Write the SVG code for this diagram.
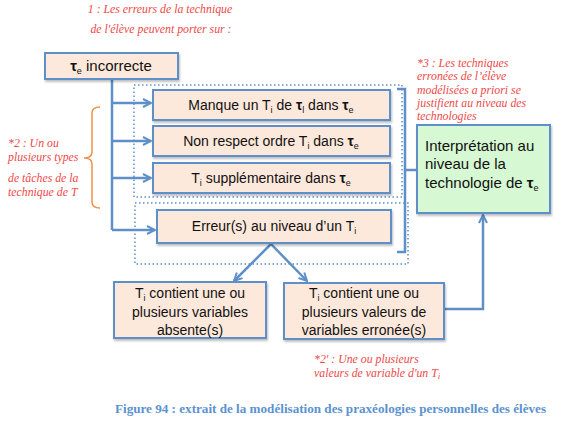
<svg xmlns="http://www.w3.org/2000/svg" width="562" height="426" viewBox="0 0 562 426">
<defs>
<style>
.box{fill:#fde9dc;stroke:#5f8fc8;stroke-width:2}
.green{fill:#d6f8d2;stroke:#5f8fc8;stroke-width:2}
.t{font-family:"Liberation Sans",Arial,sans-serif;font-size:14px;fill:#111;text-anchor:middle}
.tl{font-family:"Liberation Sans",Arial,sans-serif;font-size:15px;fill:#111}
.b{font-weight:bold}
.sub{font-size:9px}
.note{font-family:"Liberation Serif","DejaVu Serif",serif;font-style:italic;font-size:11.8px;fill:#f04848}
.con{fill:none;stroke:#5f8fc8;stroke-width:2.5}
.dot{fill:none;stroke:#5f8fc8;stroke-width:1.5;stroke-dasharray:1.5 2.5}
.brace{fill:none;stroke:#f0904a;stroke-width:1.5}
.cap{font-family:"Liberation Serif","DejaVu Serif",serif;font-weight:bold;font-size:12px;fill:#5b92d0}
</style>
<marker id="ah" viewBox="0 0 10 10" refX="9" refY="5" markerWidth="4" markerHeight="4" orient="auto" markerUnits="strokeWidth">
<path d="M1,1 L9,5 L1,9" fill="none" stroke="#5f8fc8" stroke-width="2"/>
</marker>
<filter id="sh" x="-10%" y="-10%" width="130%" height="140%">
<feDropShadow dx="1" dy="2" stdDeviation="1.2" flood-color="#000" flood-opacity="0.25"/>
</filter>
</defs>
<rect width="562" height="426" fill="#fff"/>

<g id="labels">
<text class="note" x="160" y="13" text-anchor="middle">1 : Les erreurs de la technique</text>
<text class="note" x="161" y="33" text-anchor="middle">de l'élève peuvent porter sur :</text>
<text class="note" x="8" y="147">*2 : Un ou</text>
<text class="note" x="8" y="161">plusieurs types</text>
<text class="note" x="8" y="182">de tâches de la</text>
<text class="note" x="8" y="196">technique de T</text>
<text class="note" x="417" y="67">*3 : Les techniques</text>
<text class="note" x="417" y="80">erronées de l’élève</text>
<text class="note" x="417" y="94">modélisées a priori se</text>
<text class="note" x="417" y="107">justifient au niveau des</text>
<text class="note" x="417" y="120">technologies</text>
<text class="note" x="314" y="363">*2' : Une ou plusieurs</text>
<text class="note" x="314" y="377">valeurs de variable d'un T<tspan class="sub" dy="2">i</tspan></text>
<text class="cap" x="115" y="413" textLength="431" lengthAdjust="spacingAndGlyphs">Figure 94 : extrait de la modélisation des praxéologies personnelles des élèves</text>
</g>

<g id="groupings">
<rect class="dot" x="134" y="85" width="268" height="112"/>
<rect class="dot" x="135" y="203" width="273" height="61"/>
<path class="brace" d="M100,107 Q92,107 92,113 L92,152 Q92,158 84,158 Q92,158 92,164 L92,202 Q92,208 100,208"/>
<path class="con" d="M397,89 L405,89 L405,252 L397,252 M405,170 L417,170" stroke-width="2"/>
</g>

<g id="connectors">
<path class="con" d="M112,79 L112,230"/>
<path class="con" d="M112,103 L151,103" marker-end="url(#ah)"/>
<path class="con" d="M112,141 L151,141" marker-end="url(#ah)"/>
<path class="con" d="M112,178 L151,178" marker-end="url(#ah)"/>
<path class="con" d="M112,230 L155,230" marker-end="url(#ah)"/>
<path class="con" d="M271,244 L234,281" marker-end="url(#ah)"/>
<path class="con" d="M271,244 L307,281" marker-end="url(#ah)"/>
<path class="con" d="M444,309 L483,309 L483,215" marker-end="url(#ah)"/>
</g>

<g id="n-incorrecte">
<rect class="box" x="45" y="53" width="133" height="26" filter="url(#sh)"/>
<text class="tl" x="111" y="71" text-anchor="middle"><tspan class="b">τ</tspan><tspan class="sub" dy="3">e</tspan><tspan dy="-3"> incorrecte</tspan></text>
</g>

<g id="n-manque">
<rect class="box" x="153" y="90" width="237" height="30" filter="url(#sh)"/>
<text class="t" x="271" y="110">Manque un T<tspan class="sub" dy="3">i</tspan><tspan dy="-3"> de </tspan><tspan class="b">τ</tspan><tspan class="sub" dy="3">l</tspan><tspan dy="-3"> dans </tspan><tspan class="b">τ</tspan><tspan class="sub" dy="3">e</tspan></text>
</g>

<g id="n-ordre">
<rect class="box" x="153" y="126" width="237" height="30" filter="url(#sh)"/>
<text class="t" x="271" y="146">Non respect ordre T<tspan class="sub" dy="3">i</tspan><tspan dy="-3"> dans </tspan><tspan class="b">τ</tspan><tspan class="sub" dy="3">e</tspan></text>
</g>

<g id="n-supp">
<rect class="box" x="153" y="163" width="237" height="30" filter="url(#sh)"/>
<text class="t" x="271" y="183">T<tspan class="sub" dy="3">i</tspan><tspan dy="-3"> supplémentaire dans </tspan><tspan class="b">τ</tspan><tspan class="sub" dy="3">e</tspan></text>
</g>

<g id="n-erreur">
<rect class="box" x="157" y="210" width="234" height="33" filter="url(#sh)"/>
<text class="t" x="274" y="231">Erreur(s) au niveau d’un T<tspan class="sub" dy="3">i</tspan></text>
</g>

<g id="n-absente">
<rect class="box" x="114" y="282" width="152" height="56" filter="url(#sh)"/>
<text class="t" x="190" y="298">T<tspan class="sub" dy="3">i</tspan><tspan dy="-3"> contient une ou</tspan></text>
<text class="t" x="190" y="317">plusieurs variables</text>
<text class="t" x="190" y="335">absente(s)</text>
</g>

<g id="n-erronee">
<rect class="box" x="284" y="283" width="160" height="56" filter="url(#sh)"/>
<text class="t" x="364" y="298">T<tspan class="sub" dy="3">i</tspan><tspan dy="-3"> contient une ou</tspan></text>
<text class="t" x="364" y="317">plusieurs valeurs de</text>
<text class="t" x="364" y="335">variables erronée(s)</text>
</g>

<g id="n-interpretation">
<rect class="green" x="417" y="125" width="133" height="88" filter="url(#sh)"/>
<text class="tl" x="425" y="151">Interprétation au</text>
<text class="tl" x="425" y="169">niveau de la</text>
<text class="tl" x="425" y="188">technologie de <tspan class="b">τ</tspan><tspan class="sub" dy="3">e</tspan></text>
</g>
</svg>
